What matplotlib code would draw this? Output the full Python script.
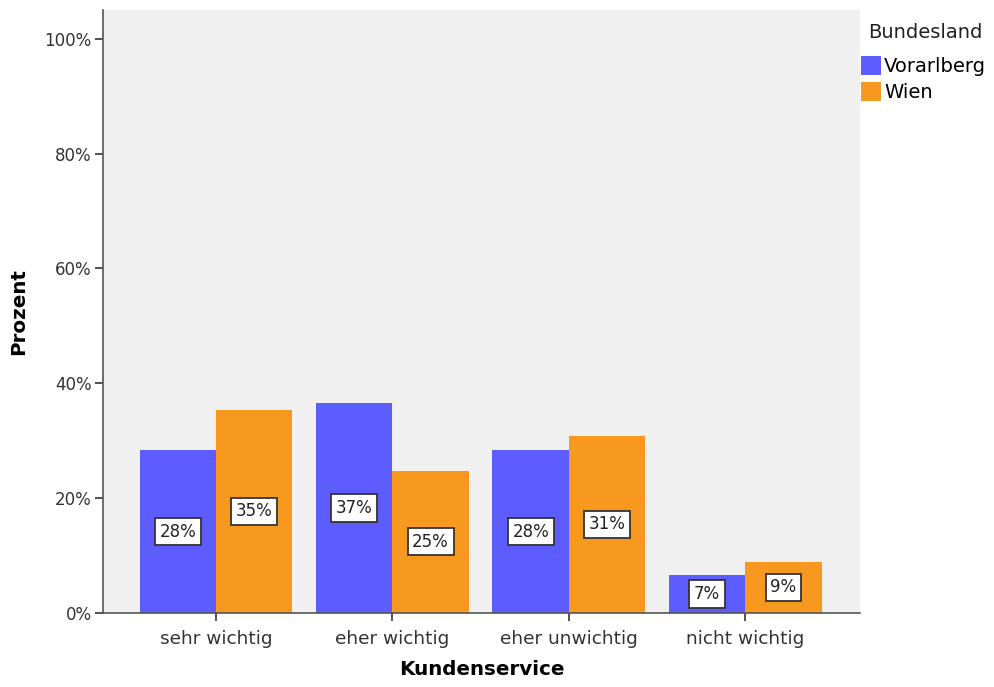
import numpy as np
import matplotlib.pyplot as plt
from matplotlib.ticker import FuncFormatter

# Daten
kategorien = ["sehr wichtig", "eher wichtig", "eher unwichtig", "nicht wichtig"]
vorarlberg = [28.3, 36.6, 28.3, 6.6]
wien = [35.4, 24.8, 30.9, 8.9]
gruppen = ["Vorarlberg", "Wien"]

farben = ["#5D5DFF", "#F8991F"]

plt.rcParams.update({"font.family": ["DejaVu Sans"],
                     "font.size": 12})

fig = plt.figure(figsize=(9.94, 6.87), dpi=100)
ax = fig.add_axes([0.1036, 0.1077, 0.7616, 0.8777])
ax.set_facecolor("#F0F0F0")

x = np.arange(len(kategorien))
breite = 0.433

balken = []
for i, (werte, farbe, name) in enumerate(zip([vorarlberg, wien], farben, gruppen)):
    pos = x + (i - 0.5) * breite
    b = ax.bar(pos, werte, width=breite, color=farbe, edgecolor="none",
               label=name, zorder=2)
    balken.append(b)
    for xp, w in zip(pos, werte):
        ax.text(xp, w / 2, "%.0f%%" % w, ha="center", va="center",
                fontsize=12, color="#222222", zorder=3,
                bbox=dict(boxstyle="square,pad=0.28", facecolor="white",
                          edgecolor="#333333", linewidth=1.3))

ax.set_xlim(-0.64, 3.65)
ax.set_ylim(0, 105)
ax.set_yticks(np.arange(0, 101, 20))
ax.yaxis.set_major_formatter(FuncFormatter(lambda v, p: "%d%%" % v))
ax.set_xticks(x)
ax.set_xticklabels(kategorien)

for s in ["top", "right"]:
    ax.spines[s].set_visible(False)
for s in ["left", "bottom"]:
    ax.spines[s].set_color("#555555")
    ax.spines[s].set_linewidth(1.2)

ax.tick_params(axis="both", labelsize=12, colors="#333333", length=6,
               width=1.2)
ax.tick_params(axis="x", pad=6, labelsize=13.3)
ax.tick_params(axis="y", pad=2)

ax.set_xlabel("Kundenservice", fontsize=14.3, fontweight="bold", labelpad=9)
ax.set_ylabel("Prozent", fontsize=14.3, fontweight="bold", labelpad=12)

# Legende rechts oben
fig.text(868 / 994, 1 - 32 / 687, "Bundesland", fontsize=14,
         color="#222222", ha="left", va="center")
leg = fig.legend(handles=balken, labels=gruppen,
                 loc="upper left", bbox_to_anchor=(859 / 994, 1 - 54 / 687),
                 frameon=False, fontsize=14,
                 handlelength=1.05, handleheight=1.15, handletextpad=0.15,
                 labelspacing=0.28, borderaxespad=0.0, borderpad=0.1)

fig.savefig("out.png", dpi=100)
